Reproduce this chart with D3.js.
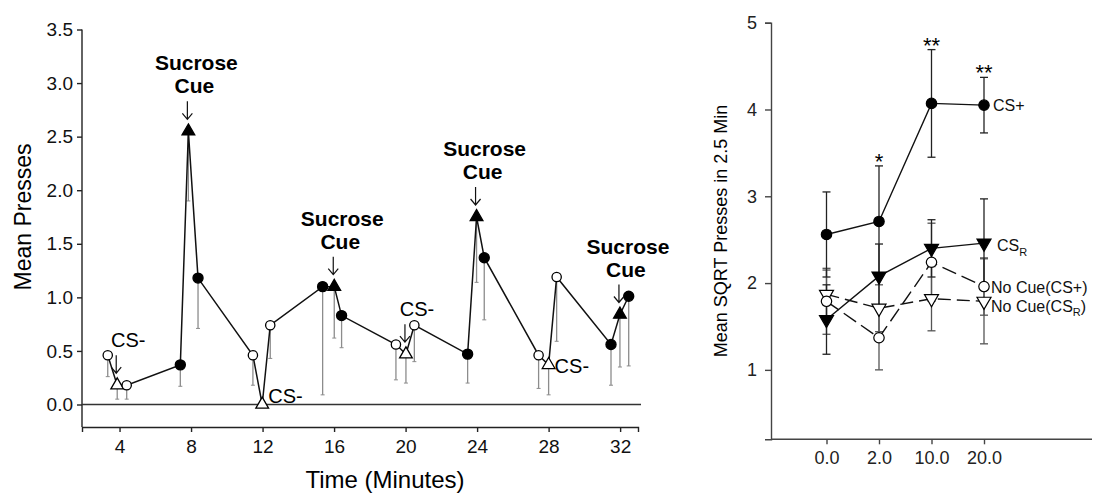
<!DOCTYPE html>
<html>
<head>
<meta charset="utf-8">
<script src="https://cdn.jsdelivr.net/npm/d3@7"></script>
<style>
  body { margin: 0; background: #fff; }
  svg { display: block; font-family: "Liberation Sans", Arial, sans-serif; }
</style>
</head>
<body>
<div id="wrapper"></div>
<script>
// ---- left panel data: session timeline ----
const minutes = [3.34, 3.87, 4.40, 7.40, 7.85, 8.39, 11.46, 11.98, 12.43, 15.36, 16.01, 16.42,
                 19.46, 20.02, 20.49, 23.47, 23.97, 24.40, 27.44, 28.00, 28.45, 31.49, 31.99, 32.48]
const meanPresses = [0.46, 0.18, 0.18, 0.37, 2.55, 1.18, 0.46, 0.00, 0.74, 1.10, 1.10, 0.83,
                     0.56, 0.47, 0.74, 0.47, 1.75, 1.37, 0.46, 0.37, 1.19, 0.56, 0.84, 1.01]
const lowerPresses = [0.26, 0.05, 0.05, 0.17, 1.90, 0.71, 0.18, 0.00, 0.43, 0.09, 0.62, 0.53,
                      0.23, 0.20, 0.40, 0.20, 1.14, 0.79, 0.15, 0.09, 0.59, 0.18, 0.35, 0.36]
// oc = open circle, ot = open triangle, fc = filled circle, ft = filled triangle
const markerType = ["oc", "ot", "oc", "fc", "ft", "fc", "oc", "ot", "oc", "fc", "ft", "fc",
                    "oc", "ot", "oc", "fc", "ft", "fc", "oc", "ot", "oc", "fc", "ft", "fc"]
const cueIndex = [1, 4, 7, 10, 13, 16, 19, 22]
const cueLabel = ["CS-", "Sucrose Cue", "CS-", "Sucrose Cue", "CS-", "Sucrose Cue", "CS-", "Sucrose Cue"]
const cueArrow = [true, true, false, true, true, true, false, true]
const leftXTicks = [4, 8, 12, 16, 20, 24, 28, 32]
const leftYTicks = [0, 0.5, 1, 1.5, 2, 2.5, 3, 3.5]

// ---- right panel data ----
const delays = ["0.0", "2.0", "10.0", "20.0"]
const csPlus = [2.56, 2.71, 4.07, 4.05]
const csPlusErr = [0.49, 0.64, 0.62, 0.32]
const csR = [1.58, 2.08, 2.40, 2.46]
const csRErr = [0.40, 0.37, 0.33, 0.51]
const noCuePlus = [1.79, 1.37, 2.24, 1.96]
const noCuePlusErr = [0.38, 0.37, 0.45, 0.33]
const noCueR = [1.87, 1.71, 1.82, 1.79]
const noCueRErr = [0.28, 0.27, 0.37, 0.49]
const significance = ["", "*", "**", "**"]
const rightYTicks = [1, 2, 3, 4, 5]

const svg = d3.select("#wrapper").append("svg")
    .attr("width", 1095)
    .attr("height", 493)

//==== LEFT PANEL ====
const xL = d3.scaleLinear().domain([1.9, 33]).range([82, 638])
const yL = d3.scaleLinear().domain([-0.21, 3.5]).range([427, 29.5])

const left = svg.append("g")

left.append("g")
    .attr("transform", "translate(82,0)")
    .call(d3.axisLeft(yL).tickValues(leftYTicks).tickFormat(d3.format(".1f")).tickSizeOuter(0).tickSize(5).tickPadding(4))
    .call(g => g.select(".domain").attr("d", `M0,${yL(3.5)}V427`))
left.append("g")
    .attr("transform", "translate(0,427)")
    .call(d3.axisBottom(xL).tickValues(leftXTicks).tickSizeOuter(0).tickSize(5).tickPadding(8))
left.selectAll(".tick text").style("font-size", "19px").attr("fill", "#111")
left.selectAll(".domain, .tick line").attr("stroke", "#222").attr("stroke-width", 1.4)

// zero reference line
left.append("line")
    .attr("x1", 82).attr("x2", 641)
    .attr("y1", yL(0)).attr("y2", yL(0))
    .attr("stroke", "#333").attr("stroke-width", 1.3)

left.append("text")
    .attr("transform", `translate(31,217) rotate(-90)`)
    .attr("text-anchor", "middle")
    .style("font-size", "23px")
    .text("Mean Presses")
left.append("text")
    .attr("x", 385).attr("y", 488)
    .attr("text-anchor", "middle")
    .style("font-size", "24px")
    .text("Time (Minutes)")

const pts = minutes.map((t, i) => ({t, v: meanPresses[i], lo: lowerPresses[i], m: markerType[i]}))

// error bars (downward only)
left.append("g").selectAll("g")
    .data(pts.filter(d => d.lo < d.v))
    .join("g")
    .each(function(d) {
      const g = d3.select(this)
      g.append("line")
          .attr("x1", xL(d.t)).attr("x2", xL(d.t))
          .attr("y1", yL(d.v)).attr("y2", yL(d.lo))
          .attr("stroke", "#8c8c8c").attr("stroke-width", 1.3)
      g.append("line")
          .attr("x1", xL(d.t) - 2).attr("x2", xL(d.t) + 2)
          .attr("y1", yL(d.lo)).attr("y2", yL(d.lo))
          .attr("stroke", "#8c8c8c").attr("stroke-width", 1)
    })

left.append("path")
    .datum(pts)
    .attr("d", d3.line().x(d => xL(d.t)).y(d => yL(d.v)))
    .attr("fill", "none")
    .attr("stroke", "#111")
    .attr("stroke-width", 1.5)

const triUp = d3.symbol().type(d3.symbolTriangle).size(70)
left.append("g").selectAll("path")
    .data(pts)
    .join("path")
    .attr("transform", d => `translate(${xL(d.t)},${yL(d.v)})`)
    .attr("d", d => d.m.endsWith("t") ? triUp() : d3.symbol().type(d3.symbolCircle).size(d.m == "fc" ? 80 : 68)())
    .attr("fill", d => d.m.startsWith("f") ? "#000" : "#fff")
    .attr("stroke", "#000")
    .attr("stroke-width", 1.3)

// cue annotations
cueIndex.forEach((idx, k) => {
  const px = xL(minutes[idx]), py = yL(meanPresses[idx])
  const sucrose = cueLabel[k] != "CS-"
  if (!cueArrow[k]) {
    left.append("text")
        .attr("x", px + 6).attr("y", py + (k == 2 ? -2 : 8))
        .style("font-size", "20px")
        .text(cueLabel[k])
    return
  }
  const top = py - 30, tip = py - 12, ax = px - 1
  left.append("path")
      .attr("d", `M${ax},${top}V${tip}M${ax - 5},${tip - 6}L${ax},${tip}L${ax + 5},${tip - 6}`)
      .attr("fill", "none").attr("stroke", "#111").attr("stroke-width", 1.2)
  if (sucrose) {
    const t = left.append("text")
        .attr("text-anchor", "middle")
        .style("font-size", "21px")
        .style("font-weight", "bold")
    t.append("tspan").attr("x", px + 8).attr("y", top - 31).text("Sucrose")
    t.append("tspan").attr("x", px + 6).attr("y", top - 8).text("Cue")
  } else {
    left.append("text")
        .attr("x", px + 11).attr("y", top - 8)
        .attr("text-anchor", "middle")
        .style("font-size", "20px")
        .text(cueLabel[k])
  }
})

//==== RIGHT PANEL ====
const xR = d3.scalePoint().domain(delays).range([826.5, 984])
const yR = d3.scaleLinear().domain([0.2, 5]).range([439.3, 22.7])

const right = svg.append("g")
right.append("g")
    .attr("transform", "translate(771,0)")
    .call(d3.axisLeft(yR).tickValues(rightYTicks).tickFormat(d3.format("d")).tickSizeOuter(0).tickSize(6).tickPadding(8))
right.append("g")
    .attr("transform", "translate(0,439.3)")
    .call(d3.axisBottom(xR).tickSizeOuter(0).tickSize(5).tickPadding(7))
    .call(g => g.select(".domain").attr("d", "M771,0H1092"))
right.selectAll(".tick text").style("font-size", "18px").attr("fill", "#222")
right.selectAll(".domain, .tick line").attr("stroke", "#444").attr("stroke-width", 1.4)

right.append("text")
    .attr("transform", `translate(727,231) rotate(-90)`)
    .attr("text-anchor", "middle")
    .style("font-size", "18px")
    .text("Mean SQRT Presses in 2.5 Min")

const series = [
  {vals: noCueR, err: noCueRErr, dash: "13,6", sym: "tri", fill: "#fff", color: "#555"},
  {vals: noCuePlus, err: noCuePlusErr, dash: "15,6", sym: "circle", fill: "#fff", color: "#555"},
  {vals: csR, err: csRErr, dash: null, sym: "tri", fill: "#000", color: "#222"},
  {vals: csPlus, err: csPlusErr, dash: null, sym: "circle", fill: "#000", color: "#222"}
]

series.forEach(s => {
  const rows = delays.map((d, i) => ({d, v: s.vals[i], e: s.err[i]}))
  const eb = right.append("g").attr("stroke", s.color).attr("stroke-width", 1.3)
  rows.forEach(r => {
    const x = xR(r.d)
    eb.append("line").attr("x1", x).attr("x2", x).attr("y1", yR(r.v + r.e)).attr("y2", yR(r.v - r.e))
    eb.append("line").attr("x1", x - 4).attr("x2", x + 4).attr("y1", yR(r.v + r.e)).attr("y2", yR(r.v + r.e))
    eb.append("line").attr("x1", x - 4).attr("x2", x + 4).attr("y1", yR(r.v - r.e)).attr("y2", yR(r.v - r.e))
  })
})
series.forEach(s => {
  const rows = delays.map((d, i) => ({d, v: s.vals[i]}))
  right.append("path")
      .datum(rows)
      .attr("d", d3.line().x(r => xR(r.d)).y(r => yR(r.v)))
      .attr("fill", "none")
      .attr("stroke", "#111")
      .attr("stroke-width", 1.4)
      .attr("stroke-dasharray", s.dash)
  right.append("g").selectAll("path")
      .data(rows)
      .join("path")
      .attr("transform", r => `translate(${xR(r.d)},${yR(r.v)})` + (s.sym == "tri" ? " rotate(180)" : ""))
      .attr("d", d3.symbol().type(s.sym == "tri" ? d3.symbolTriangle : d3.symbolCircle).size(85))
      .attr("fill", s.fill)
      .attr("stroke", "#000")
      .attr("stroke-width", 1.2)
})

// significance marks
right.append("g").selectAll("text")
    .data(delays)
    .join("text")
    .attr("x", d => xR(d))
    .attr("y", (d, i) => yR(csPlus[i] + csPlusErr[i]) + 3)
    .attr("text-anchor", "middle")
    .style("font-size", "22px")
    .text((d, i) => significance[i])

// series labels
const lastX = xR(delays[3])
const lab = right.append("g").style("font-size", "16px").attr("fill", "#111")
lab.append("text").attr("x", lastX + 9).attr("y", yR(csPlus[3]) + 6).text("CS+")
const r1 = lab.append("text").attr("x", lastX + 13).attr("y", yR(csR[3]) + 8)
r1.append("tspan").text("CS")
r1.append("tspan").attr("dy", 5).style("font-size", "11px").text("R")
lab.append("text").attr("x", lastX + 7).attr("y", yR(noCuePlus[3]) + 6).text("No Cue(CS+)")
const r2 = lab.append("text").attr("x", lastX + 7).attr("y", yR(noCueR[3]) + 11)
r2.append("tspan").text("No Cue(CS")
r2.append("tspan").attr("dy", 4).style("font-size", "11px").text("R")
r2.append("tspan").attr("dy", -4).text(")")
</script>
</body>
</html>
